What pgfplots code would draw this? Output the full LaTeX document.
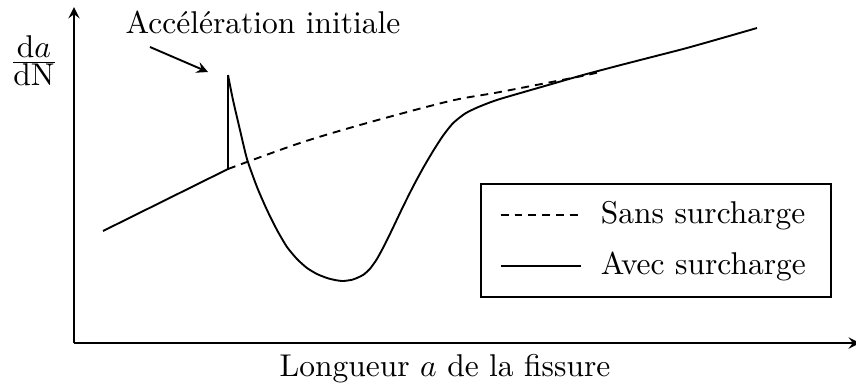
\documentclass[border=0pt]{standalone}
\usepackage{pgfplots}
\pgfplotsset{compat=1.18}

\begin{document}
\begin{tikzpicture}
\begin{axis}[
    x=0.3175pt, y=0.3175pt,
    xmin=74, xmax=860,
    ymin=46, ymax=382,
    enlargelimits=false,
    axis lines=left,
    axis line style={semithick, -stealth},
    xtick=\empty, ytick=\empty,
    clip=false,
    legend cell align=left,
    legend image code/.code={\draw[#1] (0pt,0pt) -- (25.5pt,0pt);},
    legend style={
        at={(0.9644,0.4762)}, anchor=north east,
        draw=black, semithick,
        inner xsep=6pt, inner ysep=3.5pt,
        row sep=3.6pt,
        /tikz/every odd column/.append style={column sep=4pt}
    },
]

% sans surcharge (pixel coordinates, y measured upward)
\addplot[semithick, smooth, dash pattern=on 2.5pt off 1.9pt] coordinates {
    (228,220) (300,246) (367,266) (450,288) (500,297) (577,312) (600,317)
};

% avec surcharge
\addplot[semithick, smooth, tension=0.4] coordinates {
    (228,314) (233,289) (240,259) (247,230) (257,202) (267,179)
    (277,159) (287,142) (297,130) (307,121) (317,115) (327,111)
    (335,109) (343,108) (353,109.5) (363,114) (370,120.3) (377,130.1)
    (385,144.9) (393,161.3) (403,182.3) (413,202.3) (423,220.8)
    (433,237.8) (443,253.3) (453,265.8) (465,275.4) (477,281.4)
    (490,286.6) (500,290) (517,295) (550,304.5) (583,314) (617,323)
    (650,331.5) (685,340.5) (717,349.5) (757,361)
};
\addplot[semithick, forget plot] coordinates {
    (103,158) (228,220) (228,314)
};

\legend{Sans surcharge, Avec surcharge}

\node[anchor=base] at (axis cs:263,356) {Accélération initiale};
\draw[semithick, -stealth] (axis cs:150,342) -- (axis cs:208,317);
\node[anchor=base] at (axis cs:34,319) {$\frac{\textstyle\mathrm{d}a}{\textstyle\mathrm{dN}}$};
\node[anchor=base] at (axis cs:445,13) {Longueur $a$ de la fissure};

\coordinate (bl) at (axis cs:0,0);
\coordinate (tr) at (axis cs:856,389);
\end{axis}
\pgfresetboundingbox
\path (bl) rectangle (tr);
\end{tikzpicture}
\end{document}
